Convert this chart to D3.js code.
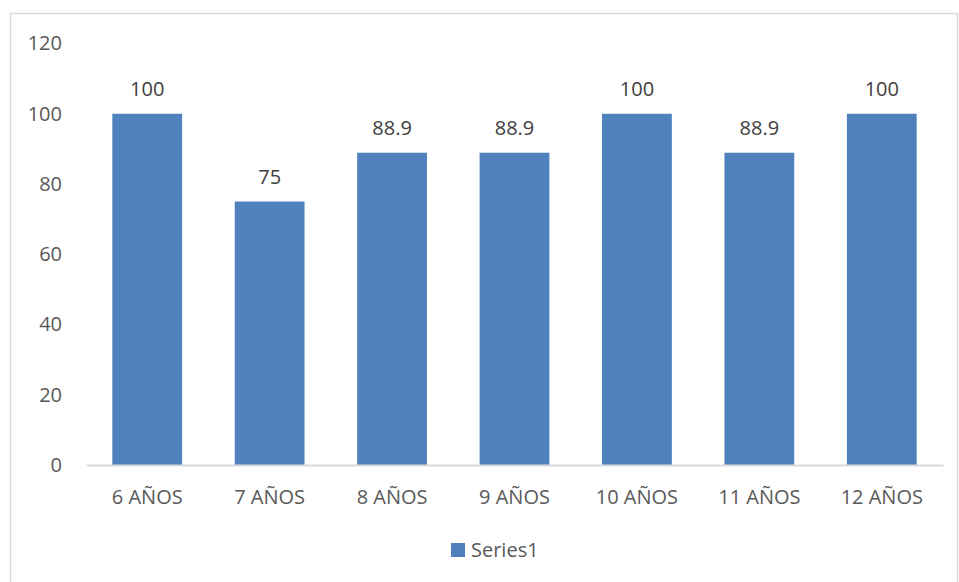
<!DOCTYPE html>
<html>
<head>
<meta charset="utf-8">
<script src="https://cdn.jsdelivr.net/npm/d3@7"></script>
<style>
  html, body { margin: 0; padding: 0; background: #fff; }
  svg { display: block; font-family: "Open Sans", "Liberation Sans", sans-serif; }
</style>
</head>
<body>
<svg id="chart" width="959" height="582"></svg>
<script>
// Share by age group
const categories = ["6 AÑOS", "7 AÑOS", "8 AÑOS", "9 AÑOS", "10 AÑOS", "11 AÑOS", "12 AÑOS"];
const values = [100, 75, 88.9, 88.9, 100, 88.9, 100];
const yTicks = [0, 20, 40, 60, 80, 100, 120];
const seriesName = "Series1";

const svg = d3.select("#chart");
const W = 959, H = 582;
const textColor = "#595959";
const barColor = "#4f81bd";
const lineColor = "#d9d9d9";

// Outer chart frame
svg.append("rect")
  .attr("x", 10.5).attr("y", 13.5)
  .attr("width", 947).attr("height", 600)
  .attr("fill", "#fff")
  .attr("stroke", lineColor).attr("stroke-width", 1.5);

const plot = { left: 86, right: 943, top: 43.5, bottom: 465 };

const x = d3.scaleBand()
  .domain(categories)
  .range([plot.left, plot.right])
  .paddingInner(0.43)
  .paddingOuter(0.215);

const y = d3.scaleLinear()
  .domain([0, 120])
  .range([plot.bottom, plot.top]);

// Y axis labels (no axis line, no ticks)
const yAxis = d3.axisLeft(y).tickValues(yTicks).tickSize(0).tickPadding(0);
const gy = svg.append("g")
  .attr("transform", `translate(62,0)`)
  .call(yAxis);
gy.select(".domain").remove();
gy.selectAll("text")
  .attr("fill", textColor)
  .attr("font-size", 20)
  .attr("font-family", "Open Sans, Liberation Sans, sans-serif");

// Bars
svg.append("g").selectAll("rect")
  .data(values)
  .join("rect")
  .attr("x", (d, i) => x(categories[i]))
  .attr("y", d => y(d))
  .attr("width", x.bandwidth())
  .attr("height", d => y(0) - y(d))
  .attr("fill", barColor);

// Value labels
svg.append("g").selectAll("text")
  .data(values)
  .join("text")
  .attr("x", (d, i) => x(categories[i]) + x.bandwidth() / 2)
  .attr("y", d => y(d) - 18)
  .attr("text-anchor", "middle")
  .attr("fill", "#404040")
  .attr("font-size", 20)
  .text(d => d3.format("~")(d));

// X axis
const xAxis = d3.axisBottom(x).tickSize(0).tickPadding(0);
const gx = svg.append("g")
  .attr("transform", `translate(0,${plot.bottom})`)
  .call(xAxis);
gx.select(".domain")
  .attr("stroke", lineColor)
  .attr("stroke-width", 2);
gx.selectAll("text")
  .attr("fill", textColor)
  .attr("font-size", 20)
  .attr("font-family", "Open Sans, Liberation Sans, sans-serif")
  .attr("dy", 0)
  .attr("y", 39);

// Legend
const legend = svg.append("g").attr("transform", "translate(451,543)");
legend.append("rect")
  .attr("width", 14).attr("height", 14)
  .attr("fill", barColor);
legend.append("text")
  .attr("x", 20).attr("y", 14)
  .attr("fill", textColor)
  .attr("font-size", 20)
  .text(seriesName);
</script>
</body>
</html>
